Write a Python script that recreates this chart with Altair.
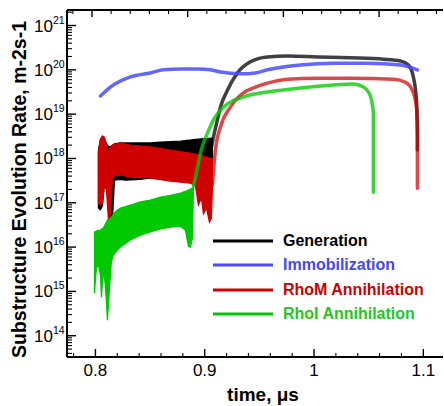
import altair as alt
import pandas as pd

# ---------------- data (x in microseconds, y stored as log10 of rate) ----------------
# noisy early parts drawn as envelopes (upper / lower)
gen_band_x = [0.8027, 0.8046, 0.8064, 0.8082, 0.8110, 0.8128, 0.8156, 0.8174, 0.8229, 0.8274,
              0.8412, 0.8503, 0.8595, 0.8778, 0.8961, 0.9070]
gen_band_hi = [18.19, 18.42, 18.48, 18.44, 18.30, 18.26, 18.30, 18.33, 18.35, 18.35,
               18.35, 18.35, 18.37, 18.39, 18.44, 18.46]
gen_band_lo = [16.88, 16.84, 16.93, 17.40, 17.29, 16.56, 16.61, 17.51, 17.53, 17.51,
               17.53, 17.56, 17.53, 17.49, 17.44, 17.40]

rhom_band_x = [0.8027, 0.8046, 0.8064, 0.8082, 0.8101, 0.8119, 0.8137, 0.8156, 0.8229, 0.8320,
               0.8503, 0.8686, 0.8869, 0.8915, 0.8942, 0.8970, 0.8988, 0.9016, 0.9043, 0.9061, 0.9070]
rhom_band_hi = [18.14, 18.44, 18.51, 18.48, 18.30, 18.14, 18.26, 18.30, 18.35, 18.30,
                18.26, 18.19, 18.12, 18.10, 18.08, 18.08, 18.05, 18.03, 18.01, 18.01, 17.99]
rhom_band_lo = [16.99, 16.95, 16.99, 17.40, 17.29, 16.61, 16.75, 17.60, 17.63, 17.58,
                17.56, 17.49, 17.44, 17.38, 16.95, 17.11, 16.75, 16.88, 16.56, 16.65, 17.29]

rhoi_band_x = [0.7991, 0.8009, 0.8027, 0.8046, 0.8055, 0.8073, 0.8091, 0.8110, 0.8128, 0.8146,
               0.8165, 0.8201, 0.8229, 0.8320, 0.8412, 0.8503, 0.8595, 0.8686, 0.8778, 0.8823,
               0.8851, 0.8869, 0.8888, 0.8897]
rhoi_band_hi = [16.34, 16.36, 16.38, 16.38, 16.41, 16.43, 16.52, 16.61, 16.63, 16.68,
                16.75, 16.84, 16.88, 16.95, 17.02, 17.06, 17.13, 17.17, 17.22, 17.26,
                17.29, 17.31, 17.33, 17.38]
rhoi_band_lo = [14.96, 15.53, 15.60, 15.37, 14.87, 15.48, 15.14, 14.35, 15.03, 15.66,
                15.82, 15.93, 16.00, 16.16, 16.27, 16.34, 16.41, 16.45, 16.47, 16.38,
                16.02, 16.00, 16.20, 17.29]

# smooth parts
gen_x = [0.9052, 0.9080, 0.9116, 0.9144, 0.9208, 0.9299, 0.9418, 0.9574, 0.9757, 1.0031,
         1.0333, 1.0635, 1.0790, 1.0864, 1.0909, 1.0937, 1.0946, 1.0946]
gen_y = [18.12, 18.48, 18.87, 19.16, 19.54, 19.93, 20.18, 20.29, 20.31, 20.29,
         20.27, 20.24, 20.20, 20.11, 19.84, 19.32, 18.64, 18.19]

imm_x = [0.8046, 0.8137, 0.8320, 0.8503, 0.8622, 0.8778, 0.8933, 0.9052, 0.9144, 0.9327,
         0.9464, 0.9574, 0.9876, 1.0178, 1.0489, 1.0790, 1.0946]
imm_y = [19.41, 19.61, 19.84, 19.93, 20.00, 20.02, 20.02, 20.00, 19.95, 19.91,
         19.93, 20.00, 20.11, 20.15, 20.15, 20.11, 20.00]

rhom_x = [0.9070, 0.9098, 0.9144, 0.9235, 0.9354, 0.9464, 0.9574, 0.9757, 1.0031, 1.0333,
          1.0726, 1.0836, 1.0900, 1.0937, 1.0946, 1.0946]
rhom_y = [17.40, 18.19, 18.71, 19.16, 19.48, 19.61, 19.70, 19.79, 19.81, 19.81,
          19.79, 19.72, 19.54, 19.16, 18.42, 17.33]

rhoi_x = [0.8897, 0.8933, 0.8961, 0.8988, 0.9025, 0.9080, 0.9144, 0.9208, 0.9354, 0.9574,
          0.9876, 1.0178, 1.0360, 1.0452, 1.0498, 1.0525, 1.0543, 1.0543, 1.0543]
rhoi_y = [17.38, 17.78, 18.12, 18.35, 18.57, 18.87, 19.09, 19.23, 19.39, 19.50,
          19.59, 19.66, 19.68, 19.61, 19.50, 19.32, 19.02, 18.42, 17.24]

series_names = ["Generation", "Immobilization", "RhoM Annihilation", "RhoI Annihilation"]
series_colors = ["#000000", "#4a4aff", "#d00000", "#00c800"]
legend_text_colors = ["#000000", "#4646f0", "#cc0000", "#1ec81e"]

# axis ticks
x_major = [0.8, 0.9, 1.0, 1.1]
x_major_labels = ["0.8", "0.9", "1", "1.1"]
x_minor = [0.78, 0.82, 0.84, 0.86, 0.88, 0.92, 0.94, 0.96, 0.98, 1.02, 1.04, 1.06, 1.08]
top_major = [0.8, 0.9, 1.0, 1.1]
top_minor = [0.78, 0.82, 0.84, 0.86, 0.88, 0.92, 0.94, 0.96, 0.98, 1.02, 1.04, 1.06, 1.08,
             1.12, 1.14, 1.16]
y_exps = [14, 15, 16, 17, 18, 19, 20, 21]
y_minor_mult = [2, 3, 4, 5, 6, 7, 8, 9]

# ---------------- layout ----------------
W, H = 376, 347
FONT = "Liberation Sans"
XDOM = [0.774, 1.118]
TOPDOM = [0.7739, 1.1668]
YLO, YHI = 10 ** 13.52, 10 ** 21.35
xs = alt.Scale(domain=XDOM, nice=False, zero=False)
ys = alt.Scale(type="log", domain=[YLO, YHI], nice=False)


def band(xv, hi, lo, color):
    df = pd.DataFrame({"t": xv, "hi": [10 ** v for v in hi], "lo": [10 ** v for v in lo]})
    return alt.Chart(df).mark_area(color=color, stroke=color, strokeWidth=1.2, clip=True,
                                   opacity=1).encode(
        x=alt.X("t:Q", scale=xs, axis=None),
        y=alt.Y("hi:Q", scale=ys, axis=None),
        y2="lo:Q",
    )


def curve(xv, yv, color, width=3.5, opacity=0.78):
    df = pd.DataFrame({"t": xv, "v": [10 ** v for v in yv], "i": list(range(len(xv)))})
    return alt.Chart(df).mark_line(color=color, strokeWidth=width, opacity=opacity,
                                   clip=True, strokeCap="round", strokeJoin="round",
                                   interpolate="monotone").encode(
        x=alt.X("t:Q", scale=xs, axis=None),
        y=alt.Y("v:Q", scale=ys, axis=None),
        order="i:Q",
    )


layers = []
layers.append(band(gen_band_x, gen_band_hi, gen_band_lo, series_colors[0]))
layers.append(band(rhom_band_x, rhom_band_hi, rhom_band_lo, series_colors[2]))
layers.append(band(rhoi_band_x, rhoi_band_hi, rhoi_band_lo, series_colors[3]))
layers.append(curve(gen_x, gen_y, series_colors[0], opacity=0.75))
layers.append(curve(imm_x, imm_y, series_colors[1], opacity=0.85))
layers.append(curve(rhom_x, rhom_y, series_colors[2], opacity=0.72))
layers.append(curve(rhoi_x, rhoi_y, series_colors[3], opacity=0.78))

one = pd.DataFrame({"a": [0]})

# frame lines
for enc in [
    dict(x=alt.value(0), y=alt.value(0), y2=alt.value(H)),
    dict(x=alt.value(0), x2=alt.value(W), y=alt.value(H)),
    dict(x=alt.value(0), x2=alt.value(W), y=alt.value(0)),
]:
    layers.append(alt.Chart(one).mark_rule(color="black", strokeWidth=2).encode(**enc))

# y ticks (inward)
ymaj_df = pd.DataFrame({"v": [10.0 ** e for e in y_exps], "e": [str(e) for e in y_exps]})
ymin_vals = [m * 10.0 ** k for k in range(13, 22) for m in y_minor_mult]
ymin_df = pd.DataFrame({"v": [v for v in ymin_vals if YLO <= v <= YHI]})
layers.append(alt.Chart(ymaj_df).mark_rule(color="black", strokeWidth=1.4).encode(
    y=alt.Y("v:Q", scale=ys, axis=None), x=alt.value(0), x2=alt.value(9)))
layers.append(alt.Chart(ymin_df).mark_rule(color="black", strokeWidth=1.1).encode(
    y=alt.Y("v:Q", scale=ys, axis=None), x=alt.value(0), x2=alt.value(5)))

# bottom x ticks (inward)
xmaj_df = pd.DataFrame({"v": x_major, "lab": x_major_labels})
xmin_df = pd.DataFrame({"v": x_minor})
layers.append(alt.Chart(xmaj_df).mark_rule(color="black", strokeWidth=1.4).encode(
    x=alt.X("v:Q", scale=xs, axis=None), y=alt.value(H), y2=alt.value(H - 8)))
layers.append(alt.Chart(xmin_df).mark_rule(color="black", strokeWidth=1.1).encode(
    x=alt.X("v:Q", scale=xs, axis=None), y=alt.value(H), y2=alt.value(H - 4)))

# x tick labels
layers.append(alt.Chart(xmaj_df).mark_text(font=FONT, fontSize=17, baseline="top",
                                           align="center", color="black").encode(
    x=alt.X("v:Q", scale=xs, axis=None), y=alt.value(H + 6), text="lab:N"))

# y tick labels 10^n
layers.append(alt.Chart(ymaj_df).mark_text(font=FONT, fontSize=17, baseline="middle",
                                           align="right", color="black", dy=1).encode(
    y=alt.Y("v:Q", scale=ys, axis=None), x=alt.value(-14), text=alt.value("10")))
layers.append(alt.Chart(ymaj_df).mark_text(font=FONT, fontSize=10.5, baseline="middle",
                                           align="left", color="black", dy=-5).encode(
    y=alt.Y("v:Q", scale=ys, axis=None), x=alt.value(-14), text="e:N"))

# axis titles
layers.append(alt.Chart(one).mark_text(font=FONT, fontSize=19.5, fontWeight="bold", angle=270,
                                       align="center", baseline="middle", color="black").encode(
    x=alt.value(-47), y=alt.value(H / 2 + 6),
    text=alt.value("Substructure Evolution Rate, m-2s-1")))
layers.append(alt.Chart(one).mark_text(font=FONT, fontSize=19, fontWeight="bold",
                                       align="center", baseline="middle", color="black").encode(
    x=alt.value(196), y=alt.value(H + 38), text=alt.value("time, μs")))

# legend
leg_y = [231, 255, 280, 304]
for name, col, tcol, yy in zip(series_names, series_colors, legend_text_colors, leg_y):
    layers.append(alt.Chart(one).mark_rule(color=col, strokeWidth=3.2).encode(
        x=alt.value(146), x2=alt.value(206), y=alt.value(yy)))
    layers.append(alt.Chart(one).mark_text(font=FONT, fontSize=16, fontWeight="bold",
                                           align="left", baseline="middle", color=tcol).encode(
        x=alt.value(216), y=alt.value(yy), text=alt.value(name)))

main = alt.layer(*layers)

# top ticks (on their own scale, as in the reference)
tscale = alt.Scale(domain=TOPDOM, nice=False, zero=False)
top_layer = alt.layer(
    alt.Chart(pd.DataFrame({"v": top_major})).mark_rule(color="black", strokeWidth=1.4).encode(
        x=alt.X("v:Q", scale=tscale, axis=None), y=alt.value(0), y2=alt.value(7)),
    alt.Chart(pd.DataFrame({"v": top_minor})).mark_rule(color="black", strokeWidth=1.1).encode(
        x=alt.X("v:Q", scale=tscale, axis=None), y=alt.value(0), y2=alt.value(4)),
)

chart = alt.layer(main, top_layer).resolve_scale(x="independent").properties(
    width=W, height=H,
    padding={"left": 67, "top": 10, "right": 1, "bottom": 49},
    autosize=alt.AutoSizeParams(type="none"),
    background="white",
).configure_view(stroke=None)

chart.save("out.html", embed_options={"renderer": "svg", "actions": False})
